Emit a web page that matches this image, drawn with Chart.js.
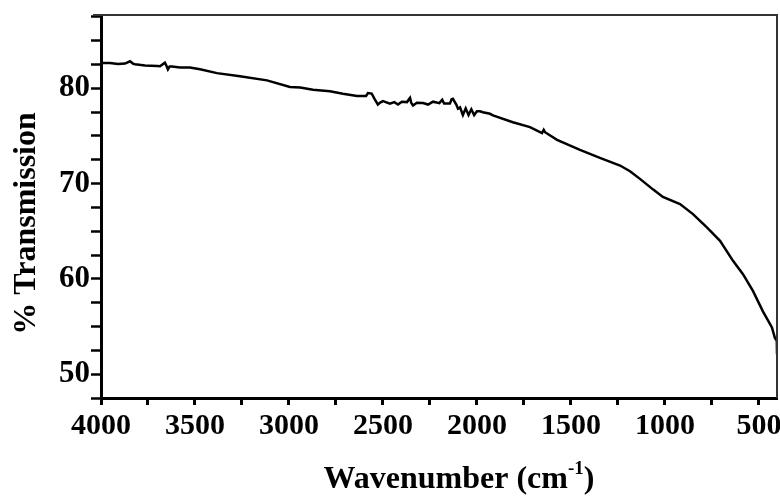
<!DOCTYPE html>
<html>
<head>
<meta charset="utf-8">
<script src="https://cdn.jsdelivr.net/npm/chart.js@4"></script>
<style>
    html, body { margin: 0; padding: 0; background: #fff; }
    #wrap { width: 780px; height: 498px; }
</style>
</head>
<body>
<div id="wrap"><canvas id="ftir"></canvas></div>
<script>
// FTIR spectrum
const wavenumbers = [
    4000, 3952, 3910, 3872, 3846, 3830, 3819, 3766, 3700, 3686,
    3660, 3650, 3644, 3635, 3622, 3580, 3527, 3473, 3383, 3261,
    3117, 2995, 2940, 2872, 2782, 2713, 2638, 2590, 2580, 2560,
    2545, 2527, 2515, 2500, 2463, 2440, 2420, 2400, 2372, 2360,
    2356, 2350, 2340, 2320, 2287, 2260, 2234, 2200, 2185, 2175,
    2144, 2135, 2128, 2110, 2101, 2090, 2075, 2060, 2045, 2030,
    2015, 2000, 1984, 1968, 1931, 1915, 1809, 1718, 1654, 1645,
    1638, 1574, 1452, 1346, 1239, 1186, 1133, 1064, 1011, 920,
    851, 777, 707, 638, 585, 532, 479, 431, 415, 405,
    404
];
const transmission = [
    82.66, 82.66, 82.56, 82.6, 82.84, 82.6, 82.53, 82.39, 82.35, 82.32,
    82.7, 82.3, 82.0, 82.3, 82.3, 82.18, 82.2, 82.0, 81.6, 81.26,
    80.84, 80.14, 80.1, 79.86, 79.7, 79.44, 79.2, 79.2, 79.5, 79.45,
    78.9, 78.3, 78.5, 78.66, 78.4, 78.55, 78.3, 78.6, 78.56, 78.9,
    79.0, 78.5, 78.2, 78.5, 78.46, 78.3, 78.6, 78.45, 78.8, 78.4,
    78.4, 78.85, 78.9, 78.3, 77.86, 78.0, 77.2, 77.9, 77.2, 77.8,
    77.2, 77.6, 77.6, 77.5, 77.33, 77.16, 76.45, 75.93, 75.3, 75.65,
    75.4, 74.6, 73.55, 72.7, 71.9, 71.3, 70.5, 69.4, 68.6, 67.86,
    66.8, 65.4, 64.0, 61.9, 60.5, 58.74, 56.6, 54.9, 53.8, 53.5,
    52.1
];
const xTicks = [4000, 3750, 3500, 3250, 3000, 2750, 2500, 2250, 2000, 1750, 1500, 1250, 1000, 750, 500];
const yTicks = [47.5, 50, 52.5, 55, 57.5, 60, 62.5, 65, 67.5, 70, 72.5, 75, 77.5, 80, 82.5, 85, 87.5];
const xTitle = 'Wavenumber (cm';
const xTitleSup = '-1';
const yTitle = '% Transmission';

const serif = '"Liberation Serif", "Times New Roman", serif';

// frame on top/right plus the two axis titles (x one has a superscript)
const framePlugin = {
    id: 'frameAndTitles',
    afterDraw(chart) {
        const { ctx, chartArea } = chart;
        ctx.save();
        ctx.strokeStyle = '#333';
        ctx.lineWidth = 2;
        ctx.beginPath();
        ctx.moveTo(chartArea.left - 8, chartArea.top);
        ctx.lineTo(chartArea.right, chartArea.top);
        ctx.lineTo(chartArea.right, chartArea.bottom);
        ctx.stroke();

        ctx.fillStyle = '#000';
        ctx.textBaseline = 'alphabetic';
        ctx.textAlign = 'left';

        const bigFont = 'bold 32px ' + serif;
        const supFont = 'bold 19px ' + serif;
        ctx.font = bigFont;
        const wMain = ctx.measureText(xTitle).width;
        const wClose = ctx.measureText(')').width;
        ctx.font = supFont;
        const wSup = ctx.measureText(xTitleSup).width;
        const total = wMain + wSup + wClose;
        const cx = (chartArea.left + chartArea.right) / 2 + 20;
        const base = chart.height - 10;
        let x = cx - total / 2;
        ctx.font = bigFont;
        ctx.fillText(xTitle, x, base);
        x += wMain;
        ctx.font = supFont;
        ctx.fillText(xTitleSup, x, base - 14);
        x += wSup;
        ctx.font = bigFont;
        ctx.fillText(')', x, base);

        ctx.translate(35, (chartArea.top + chartArea.bottom) / 2 + 17);
        ctx.rotate(-Math.PI / 2);
        ctx.textAlign = 'center';
        ctx.fillText(yTitle, 0, 0);
        ctx.restore();
    }
};

new Chart(document.getElementById('ftir'), {
    type: 'line',
    data: {
        datasets: [{
            data: wavenumbers.map((w, i) => ({ x: w, y: transmission[i] })),
            borderColor: '#000',
            borderWidth: 2.5,
            pointRadius: 0,
            tension: 0,
            fill: false
        }]
    },
    options: {
        responsive: true,
        maintainAspectRatio: false,
        animation: false,
        layout: { padding: { top: 15, right: 3, left: 0, bottom: 0 } },
        plugins: {
            legend: { display: false },
            tooltip: { enabled: false }
        },
        scales: {
            x: {
                type: 'linear',
                reverse: true,
                min: 404,
                max: 4000,
                afterBuildTicks: scale => { scale.ticks = xTicks.map(v => ({ value: v })); },
                afterFit: scale => {
                    scale.height = 100;
                    scale.paddingLeft = 0;
                    scale.paddingRight = 0;
                },
                border: { display: true, color: '#000', width: 3 },
                grid: { drawOnChartArea: false, drawTicks: true, tickLength: 7, tickWidth: 3, tickColor: '#000' },
                ticks: {
                    autoSkip: false,
                    maxRotation: 0,
                    padding: 3,
                    color: '#000',
                    font: { family: serif, size: 30, weight: 'bold' },
                    callback: v => (v % 500 === 0 ? String(v) : '')
                }
            },
            y: {
                min: 47.5,
                max: 87.7,
                afterBuildTicks: scale => { scale.ticks = yTicks.map(v => ({ value: v })); },
                afterFit: scale => {
                    scale.width = 101;
                    scale.paddingTop = 0;
                    scale.paddingBottom = 0;
                },
                border: { display: true, color: '#000', width: 3 },
                grid: { drawOnChartArea: false, drawTicks: true, tickLength: 10, tickWidth: 2.5, tickColor: '#000' },
                ticks: {
                    autoSkip: false,
                    padding: 1,
                    color: '#000',
                    font: { family: serif, size: 31, weight: 'bold' },
                    callback: v => (v % 10 === 0 ? String(v) : '')
                }
            }
        }
    },
    plugins: [framePlugin]
});
</script>
</body>
</html>
